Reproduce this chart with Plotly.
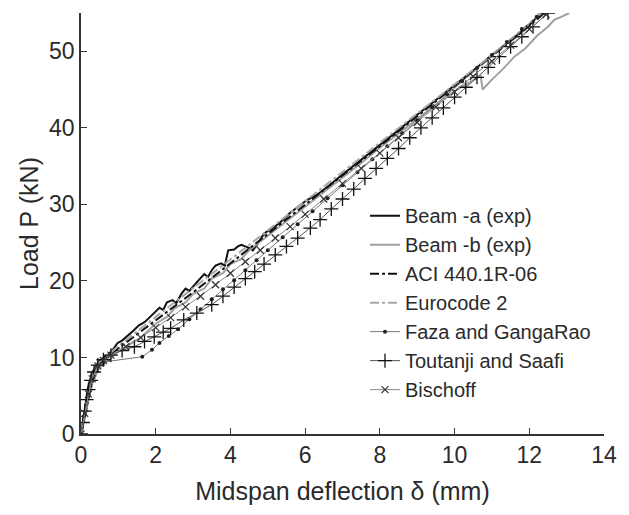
import plotly.graph_objects as go

# Beam -a (exp)
beam_a_x = [0, 0.03, 0.1, 0.19, 0.3, 0.45, 0.6, 0.71, 0.85, 0.98, 1.1, 1.25, 1.4, 1.55, 1.7, 1.85, 1.96, 2.1, 2.2,
            2.3, 2.45, 2.55, 2.7, 2.8, 2.9, 3.05, 3.15, 3.3, 3.4, 3.5, 3.6, 3.75, 3.85, 3.94, 4.1, 4.2, 4.29, 4.5,
            4.6, 4.75, 4.9, 5.1, 5.3, 5.6, 5.8, 6.06, 6.3, 6.6, 7.0, 7.5, 8.0, 8.5, 9.0, 9.5, 10.0, 10.5, 11.0,
            11.5, 12.0, 12.3]
beam_a_y = [0, 0.9, 3.0, 6.1, 8.0, 9.3, 10.0, 10.3, 11.0, 11.9, 12.2, 12.8, 13.5, 14.2, 14.6, 15.3, 15.8, 16.5, 16.2,
            17.2, 17.5, 17.1, 18.4, 19.0, 18.7, 19.6, 20.1, 20.9, 20.5, 21.4, 22.0, 22.3, 22.0, 24.0, 24.1, 24.5,
            24.7, 24.3, 24.0, 25.0, 26.2, 26.8, 27.5, 28.9, 29.6, 30.6, 31.2, 32.3, 33.9, 35.8, 37.8, 39.7, 41.7,
            43.6, 45.6, 47.5, 49.5, 51.4, 53.4, 55.0]

# Beam -b (exp)
beam_b_x = [0, 0.1, 0.2, 0.3, 0.45, 0.6, 0.75, 1.0, 1.3, 1.6, 2.0, 2.3, 2.5, 2.8, 3.0, 3.3, 3.5, 3.8, 4.0, 4.3, 4.5,
            5.0, 5.5, 6.0, 6.5, 7.0, 7.5, 8.0, 8.5, 9.0, 9.5, 10.0, 10.4, 10.7, 10.75, 11.0, 11.3, 11.6, 11.9,
            12.2, 12.5, 12.67, 12.9, 13.07]
beam_b_y = [0, 2.0, 4.5, 6.5, 8.3, 9.2, 9.6, 10.8, 11.7, 12.6, 14.4, 15.3, 16.4, 17.2, 18.3, 19.0, 20.3, 21.0, 22.2,
            22.9, 24.0, 25.9, 27.8, 29.6, 31.5, 33.5, 35.4, 37.4, 39.3, 41.2, 43.0, 44.8, 45.9, 46.8, 45.0, 46.3,
            47.7, 49.3, 50.4, 52.0, 53.2, 54.1, 54.6, 55.0]

# ACI 440.1R-06
aci_x = [0, 0.1, 0.2, 0.3, 0.4, 0.5, 1.0, 2.0, 3.0, 4.0, 5.0, 6.0, 7.0, 8.0, 9.0, 10.0, 11.0, 12.0, 12.4]
aci_y = [0, 2.5, 5.0, 7.0, 8.5, 9.3, 11.2, 14.8, 18.5, 22.3, 26.1, 29.9, 33.7, 37.6, 41.5, 45.4, 49.3, 53.3, 55.0]

# Eurocode 2
ec2_x = [0, 0.1, 0.2, 0.3, 0.45, 0.6, 1.0, 2.0, 3.0, 4.0, 5.0, 6.0, 7.0, 8.0, 9.0, 10.0, 11.0, 12.0, 12.3]
ec2_y = [0, 2.8, 5.5, 7.5, 9.2, 9.8, 11.5, 15.3, 19.0, 22.8, 26.6, 30.4, 34.2, 38.0, 41.8, 45.6, 49.5, 53.6, 55.0]

# Faza and GangaRao
faza_x = [0, 0.1, 0.2, 0.3, 0.45, 0.6, 1.64, 1.9, 2.1, 2.35, 2.6, 2.9, 3.2, 3.5, 3.8, 4.1, 4.4, 4.7, 5.0, 5.4, 5.8,
          6.2, 6.6, 7.0, 7.4, 7.8, 8.2, 8.6, 9.0, 9.4, 9.8, 10.2, 10.6, 11.0, 11.4, 11.8, 12.2, 12.4]
faza_y = [0, 2.5, 5.0, 7.0, 8.8, 9.4, 10.1, 11.0, 11.9, 12.8, 13.7, 15.0, 16.3, 17.6, 18.9, 20.1, 21.4, 22.7, 24.0,
          25.7, 27.4, 29.1, 30.8, 32.5, 34.2, 35.9, 37.6, 39.3, 41.0, 42.7, 44.4, 46.1, 47.8, 49.5, 51.2, 52.9,
          54.5, 55.0]

# Toutanji and Saafi
tout_x = [0, 0.05, 0.1, 0.15, 0.2, 0.27, 0.35, 0.45, 0.6, 0.8, 1.1, 1.43, 1.7, 1.96, 2.2, 2.4, 2.75, 3.1, 3.5, 3.8,
          4.1, 4.4, 4.65, 4.9, 5.2, 5.5, 5.8, 6.14, 6.4, 6.7, 7.0, 7.3, 7.6, 7.9, 8.2, 8.5, 8.8, 9.1, 9.4, 9.7,
          10.0, 10.3, 10.6, 10.9, 11.2, 11.5, 11.8, 12.1, 12.5]
tout_y = [0, 1.5, 3.0, 4.5, 5.8, 7.0, 8.1, 9.0, 9.7, 10.3, 10.9, 11.4, 12.1, 12.7, 13.3, 13.8, 14.9, 15.8, 16.9, 18.0,
          19.2, 20.3, 21.2, 22.2, 23.4, 24.5, 25.6, 26.9, 28.0, 29.4, 30.7, 32.0, 33.4, 34.7, 36.0, 37.3, 38.7,
          40.0, 41.3, 42.6, 44.0, 45.3, 46.6, 47.9, 49.3, 50.6, 51.9, 53.2, 55.0]

# Bischoff
bisc_x = [0, 0.1, 0.2, 0.3, 0.45, 0.6, 0.8, 1.2, 1.6, 2.0, 2.4, 2.8, 3.2, 3.6, 4.0, 4.4, 4.8, 5.2, 5.6, 6.0, 6.5,
          7.0, 7.5, 8.0, 8.5, 9.0, 9.5, 10.0, 10.5, 11.0, 11.5, 12.0, 12.45]
bisc_y = [0, 2.7, 5.2, 7.2, 8.9, 9.6, 10.3, 11.4, 12.6, 13.9, 15.2, 16.6, 18.0, 19.5, 21.0, 22.5, 24.0, 25.6, 27.1,
          28.7, 30.7, 32.7, 34.7, 36.7, 38.7, 40.7, 42.7, 44.7, 46.7, 48.7, 50.8, 52.9, 54.8]

x_ticks = [0, 2, 4, 6, 8, 10, 12, 14]
y_ticks = [0, 10, 20, 30, 40, 50]

FONT = "Liberation Sans, Arial, sans-serif"
TXT = "#2a2a2a"

fig = go.Figure()
fig.add_trace(go.Scatter(x=beam_a_x, y=beam_a_y, mode="lines", name="Beam -a (exp)",
                         line=dict(color="#111111", width=2)))
fig.add_trace(go.Scatter(x=beam_b_x, y=beam_b_y, mode="lines", name="Beam -b (exp)",
                         line=dict(color="#a0a0a0", width=2)))
fig.add_trace(go.Scatter(x=aci_x, y=aci_y, mode="lines", name="ACI 440.1R-06",
                         line=dict(color="#111111", width=2, dash="dashdot")))
fig.add_trace(go.Scatter(x=ec2_x, y=ec2_y, mode="lines", name="Eurocode 2",
                         line=dict(color="#a8a8a8", width=2, dash="dashdot")))
fig.add_trace(go.Scatter(x=faza_x, y=faza_y, mode="lines+markers", name="Faza and GangaRao",
                         line=dict(color="#777777", width=1),
                         marker=dict(symbol="circle", size=4, color="#222222")))
fig.add_trace(go.Scatter(x=tout_x, y=tout_y, mode="lines+markers", name="Toutanji and Saafi",
                         line=dict(color="#555555", width=1),
                         marker=dict(symbol="cross-thin", size=10, color="#111111",
                                     line=dict(color="#111111", width=1.3))))
fig.add_trace(go.Scatter(x=bisc_x, y=bisc_y, mode="lines+markers", name="Bischoff",
                         line=dict(color="#888888", width=1),
                         marker=dict(symbol="x-thin", size=7, color="#333333",
                                     line=dict(color="#333333", width=1.2))))

fig.update_layout(
    width=629, height=515,
    margin=dict(l=81, r=19, t=13, b=81),
    paper_bgcolor="white", plot_bgcolor="white",
    font=dict(family=FONT, color=TXT, size=22),
    showlegend=True,
    legend=dict(x=0.543, y=0.565, xanchor="left", yanchor="top",
                bgcolor="rgba(0,0,0,0)", borderwidth=0,
                font=dict(family=FONT, size=20, color=TXT),
                itemwidth=30, tracegroupgap=0),
)
fig.update_xaxes(range=[0, 14], tickvals=x_ticks, ticktext=[str(v) for v in x_ticks],
                 showline=True, linecolor="#333333", linewidth=1.5, showgrid=False, zeroline=False,
                 ticks="inside", ticklen=6, tickwidth=1.2, tickcolor="#333333",
                 tickfont=dict(family=FONT, size=23, color=TXT),
                 title=dict(text="Midspan deflection δ (mm)", font=dict(family=FONT, size=25, color=TXT),
                            standoff=15))
fig.update_yaxes(range=[0, 55], tickvals=y_ticks, ticktext=[str(v) for v in y_ticks],
                 showline=True, linecolor="#333333", linewidth=1.5, showgrid=False, zeroline=False,
                 ticks="inside", ticklen=6, tickwidth=1.2, tickcolor="#333333",
                 tickfont=dict(family=FONT, size=23, color=TXT),
                 title=dict(text="Load P (kN)", font=dict(family=FONT, size=25, color=TXT),
                            standoff=3))

fig.write_html("out.html")
